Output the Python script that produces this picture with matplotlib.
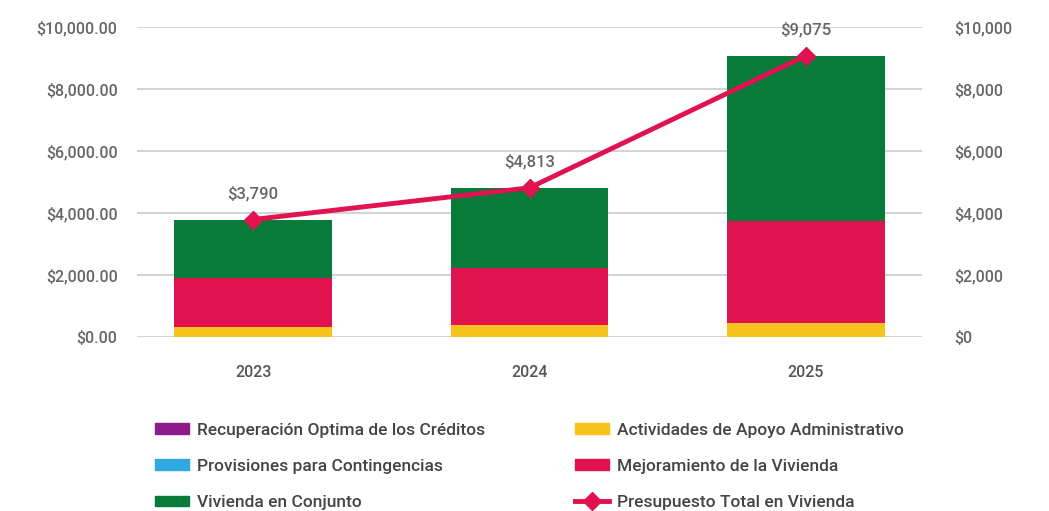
import matplotlib
matplotlib.use("Agg")
import matplotlib.pyplot as plt
from matplotlib.patches import Patch
from matplotlib.lines import Line2D
import numpy as np

plt.rcParams['font.family'] = ['Roboto', 'DejaVu Sans']

years = ['2023', '2024', '2025']
recuperacion = [0, 0, 0]
provisiones = [0, 0, 0]
actividades = [320, 390, 440]
mejoramiento = [1570, 1840, 3310]
vivienda_conjunto = [1900, 2583, 5325]
presupuesto_total = [3790, 4813, 9075]
total_labels = ['$3,790', '$4,813', '$9,075']

left_ticks = [0, 2000, 4000, 6000, 8000, 10000]
left_labels = ['$0.00', '$2,000.00', '$4,000.00', '$6,000.00', '$8,000.00', '$10,000.00']
right_labels = ['$0', '$2,000', '$4,000', '$6,000', '$8,000', '$10,000']

c_purple = '#8E1B8A'
c_blue = '#2EA9E1'
c_yellow = '#F7C21B'
c_red = '#E0124F'
c_green = '#087A3A'
c_text = '#666666'
c_grid = '#CCCCCC'

W, H = 1049, 511
fig = plt.figure(figsize=(W/100, H/100), dpi=100)
ax = fig.add_axes([137/W, 1-337/H, (922-137)/W, (337-27)/H])

x = np.arange(len(years))
bw = 0.57
b0 = np.zeros(3)
for vals, col in [(recuperacion, c_purple), (provisiones, c_blue), (actividades, c_yellow),
                  (mejoramiento, c_red), (vivienda_conjunto, c_green)]:
    ax.bar(x, vals, bw, bottom=b0, color=col, zorder=2)
    b0 = b0 + np.array(vals)

ax.plot(x, presupuesto_total, color=c_red, lw=3.5, marker='D', markersize=9, zorder=4)
for xi, v, lab in zip(x, presupuesto_total, total_labels):
    ax.annotate(lab, (xi, v), xytext=(0, 13), textcoords='offset points', ha='center',
                va='bottom', color=c_text, fontsize=12, fontweight='medium')

ax.set_xlim(-0.42, 2.42)
ax.set_ylim(0, 10000)
ax.set_yticks(left_ticks)
ax.set_yticklabels(left_labels)
ax.yaxis.grid(True, color=c_grid, lw=1.2, zorder=0)
ax.set_axisbelow(True)
for s in ax.spines.values():
    s.set_visible(False)
ax.tick_params(axis='y', length=0, pad=14, labelcolor=c_text, labelsize=11.5)
ax.set_xticks(x)
ax.set_xticklabels(years)
ax.tick_params(axis='x', length=0, pad=20, labelcolor='#555555', labelsize=11.5)
for t in ax.get_xticklabels() + ax.get_yticklabels():
    t.set_fontweight('medium')

ax2 = ax.twinx()
ax2.set_ylim(0, 10000)
ax2.set_yticks(left_ticks)
ax2.set_yticklabels(right_labels)
for s in ax2.spines.values():
    s.set_visible(False)
ax2.tick_params(axis='y', length=0, pad=23, labelcolor=c_text, labelsize=11.5)
for t in ax2.get_yticklabels():
    t.set_fontweight('medium')

h_left = [Patch(color=c_purple, label='Recuperación Optima de los Créditos'),
          Patch(color=c_blue, label='Provisiones para Contingencias'),
          Patch(color=c_green, label='Vivienda en Conjunto')]
h_right = [Patch(color=c_yellow, label='Actividades de Apoyo Administrativo'),
           Patch(color=c_red, label='Mejoramiento de la Vivienda'),
           Line2D([], [], color=c_red, lw=3.5, marker='D', markersize=9,
                  label='Presupuesto Total en Vivienda')]

common = dict(frameon=False, fontsize=12.5, handlelength=2.0, handleheight=0.55,
              labelspacing=1.22, handletextpad=0.45, labelcolor='#444444')
leg1 = fig.legend(handles=h_left, loc='upper left', bbox_to_anchor=(139/W, 1-407/H), **common)
leg2 = fig.legend(handles=h_right, loc='upper left', bbox_to_anchor=(559/W, 1-407/H), **common)
for lg in (leg1, leg2):
    for t in lg.get_texts():
        t.set_fontweight('medium')

fig.savefig('out.png', dpi=100)
